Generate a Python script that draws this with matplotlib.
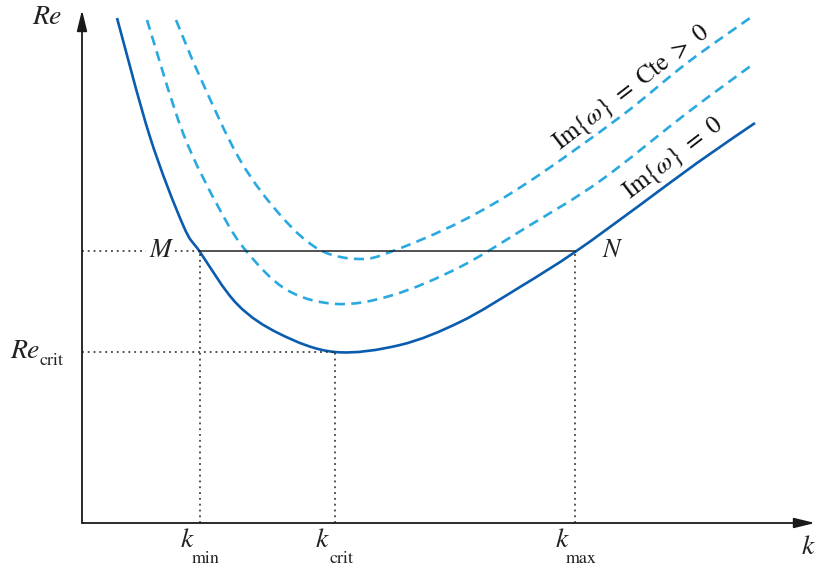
import matplotlib
matplotlib.use("Agg")
import matplotlib.pyplot as plt
from matplotlib.path import Path
from matplotlib.patches import PathPatch

plt.rcParams['mathtext.fontset'] = 'stix'

# ---- data (k, Re) in chart units, origin at axes crossing ----
k_solid = [35, 68, 101, 118, 155, 198, 253, 318, 378, 438, 493, 558, 615, 673]
re_solid = [505, 386, 298, 271, 219, 189, 171, 178, 201, 236, 271, 318, 360, 400]

k_dash1 = [65, 101, 138, 165, 205, 255, 311, 378, 445, 518, 605, 670]
re_dash1 = [503, 390, 313, 271, 233, 219, 228, 256, 296, 342, 410, 458]

k_dash2 = [94, 118, 158, 200, 238, 278, 311, 378, 445, 538, 605, 668]
re_dash2 = [503, 446, 363, 306, 273, 264, 272, 301, 340, 406, 460, 505]

k_min, k_crit, k_max = 118, 253, 493
re_mn, re_crit = 272, 171
k_axis_end, re_axis_end = 733, 513

tick_labels = [("k", "min"), ("k", "crit"), ("k", "max")]
label_upper = r'$\mathrm{Im}\{\omega\}\ =\ \mathrm{Cte}\ >\ 0$'
label_lower = r'$\mathrm{Im}\{\omega\}\ =\ 0$'

solid_color = '#0a5cae'
dash_color = '#2aa9e0'


def smooth_path(xs, ys):
    """Catmull-Rom curve through the given points, as cubic Bezier path."""
    pts = list(zip(xs, ys))
    n = len(pts)
    verts = [pts[0]]
    codes = [Path.MOVETO]
    for i in range(n - 1):
        p0 = pts[i - 1] if i > 0 else pts[i]
        p1 = pts[i]
        p2 = pts[i + 1]
        p3 = pts[i + 2] if i + 2 < n else pts[i + 1]
        c1 = (p1[0] + (p2[0] - p0[0]) / 6.0, p1[1] + (p2[1] - p0[1]) / 6.0)
        c2 = (p2[0] - (p3[0] - p1[0]) / 6.0, p2[1] - (p3[1] - p1[1]) / 6.0)
        verts += [c1, c2, p2]
        codes += [Path.CURVE4] * 3
    return Path(verts, codes)


fig = plt.figure(figsize=(8.15, 5.68), dpi=100)
ax = fig.add_axes([0, 0, 1, 1])
ax.set_xlim(-82, 733)
ax.set_ylim(-45, 523)
ax.axis('off')

# axes with arrows
arrow = dict(arrowstyle='-|>,head_length=0.9,head_width=0.22', lw=1.3, color='#1a1a1a',
             shrinkA=0, shrinkB=0, mutation_scale=14)
ax.annotate('', xy=(k_axis_end, 0), xytext=(0, 0), arrowprops=arrow)
ax.annotate('', xy=(0, re_axis_end), xytext=(0, 0), arrowprops=arrow)

# dotted guides
dot = dict(color='#222222', lw=1.1, ls=(0, (1.2, 2.6)))
ax.plot([0, k_min], [re_mn, re_mn], **dot)
ax.plot([0, k_crit], [re_crit, re_crit], **dot)
for kk, rr in [(k_min, re_mn), (k_crit, re_crit), (k_max, re_mn)]:
    ax.plot([kk, kk], [0, rr], **dot)
# M-N line
ax.plot([k_min, k_max], [re_mn, re_mn], color='#222222', lw=1.1)

# curves
dash = (0, (3.8, 2.4))
ax.add_patch(PathPatch(smooth_path(k_dash2, re_dash2), fill=False, edgecolor=dash_color,
                       lw=1.9, ls=dash, capstyle='butt'))
ax.add_patch(PathPatch(smooth_path(k_dash1, re_dash1), fill=False, edgecolor=dash_color,
                       lw=1.9, ls=dash, capstyle='butt'))
ax.add_patch(PathPatch(smooth_path(k_solid, re_solid), fill=False, edgecolor=solid_color,
                       lw=1.9, capstyle='butt'))

serif = 'STIXGeneral'
# axis labels
ax.text(-35, 505, 'Re', family=serif, style='italic', fontsize=20, ha='center', va='center', color='#222')
ax.text(726, -25, 'k', family=serif, style='italic', fontsize=20, ha='center', va='center', color='#222')
ax.text(78, 272, 'M', family=serif, style='italic', fontsize=19, ha='center', va='center', color='#222',
        bbox=dict(facecolor='white', edgecolor='none', pad=2))
ax.text(529, 272, 'N', family=serif, style='italic', fontsize=19, ha='center', va='center', color='#222')

# Re_crit
ax.text(-57, 171, 'Re', family=serif, style='italic', fontsize=20, ha='center', va='center', color='#222')
ax.text(-30, 162, 'crit', family=serif, fontsize=13, ha='center', va='center', color='#222')

# k ticks
for kk, (main, sub) in zip([k_min, k_crit, k_max], tick_labels):
    ax.text(kk - 13, -18, main, family=serif, style='italic', fontsize=20, ha='center', va='center', color='#222')
    ax.text(kk + 6, -36, sub, family=serif, fontsize=13, ha='center', va='center', color='#222')

# rotated curve labels
ax.text(550, 435, label_upper, fontsize=18, rotation=37.5, rotation_mode='anchor',
        ha='center', va='center', color='#111')
ax.text(591, 365, label_lower, fontsize=18, rotation=37.5, rotation_mode='anchor',
        ha='center', va='center', color='#111')

fig.savefig('out.png', dpi=100)
